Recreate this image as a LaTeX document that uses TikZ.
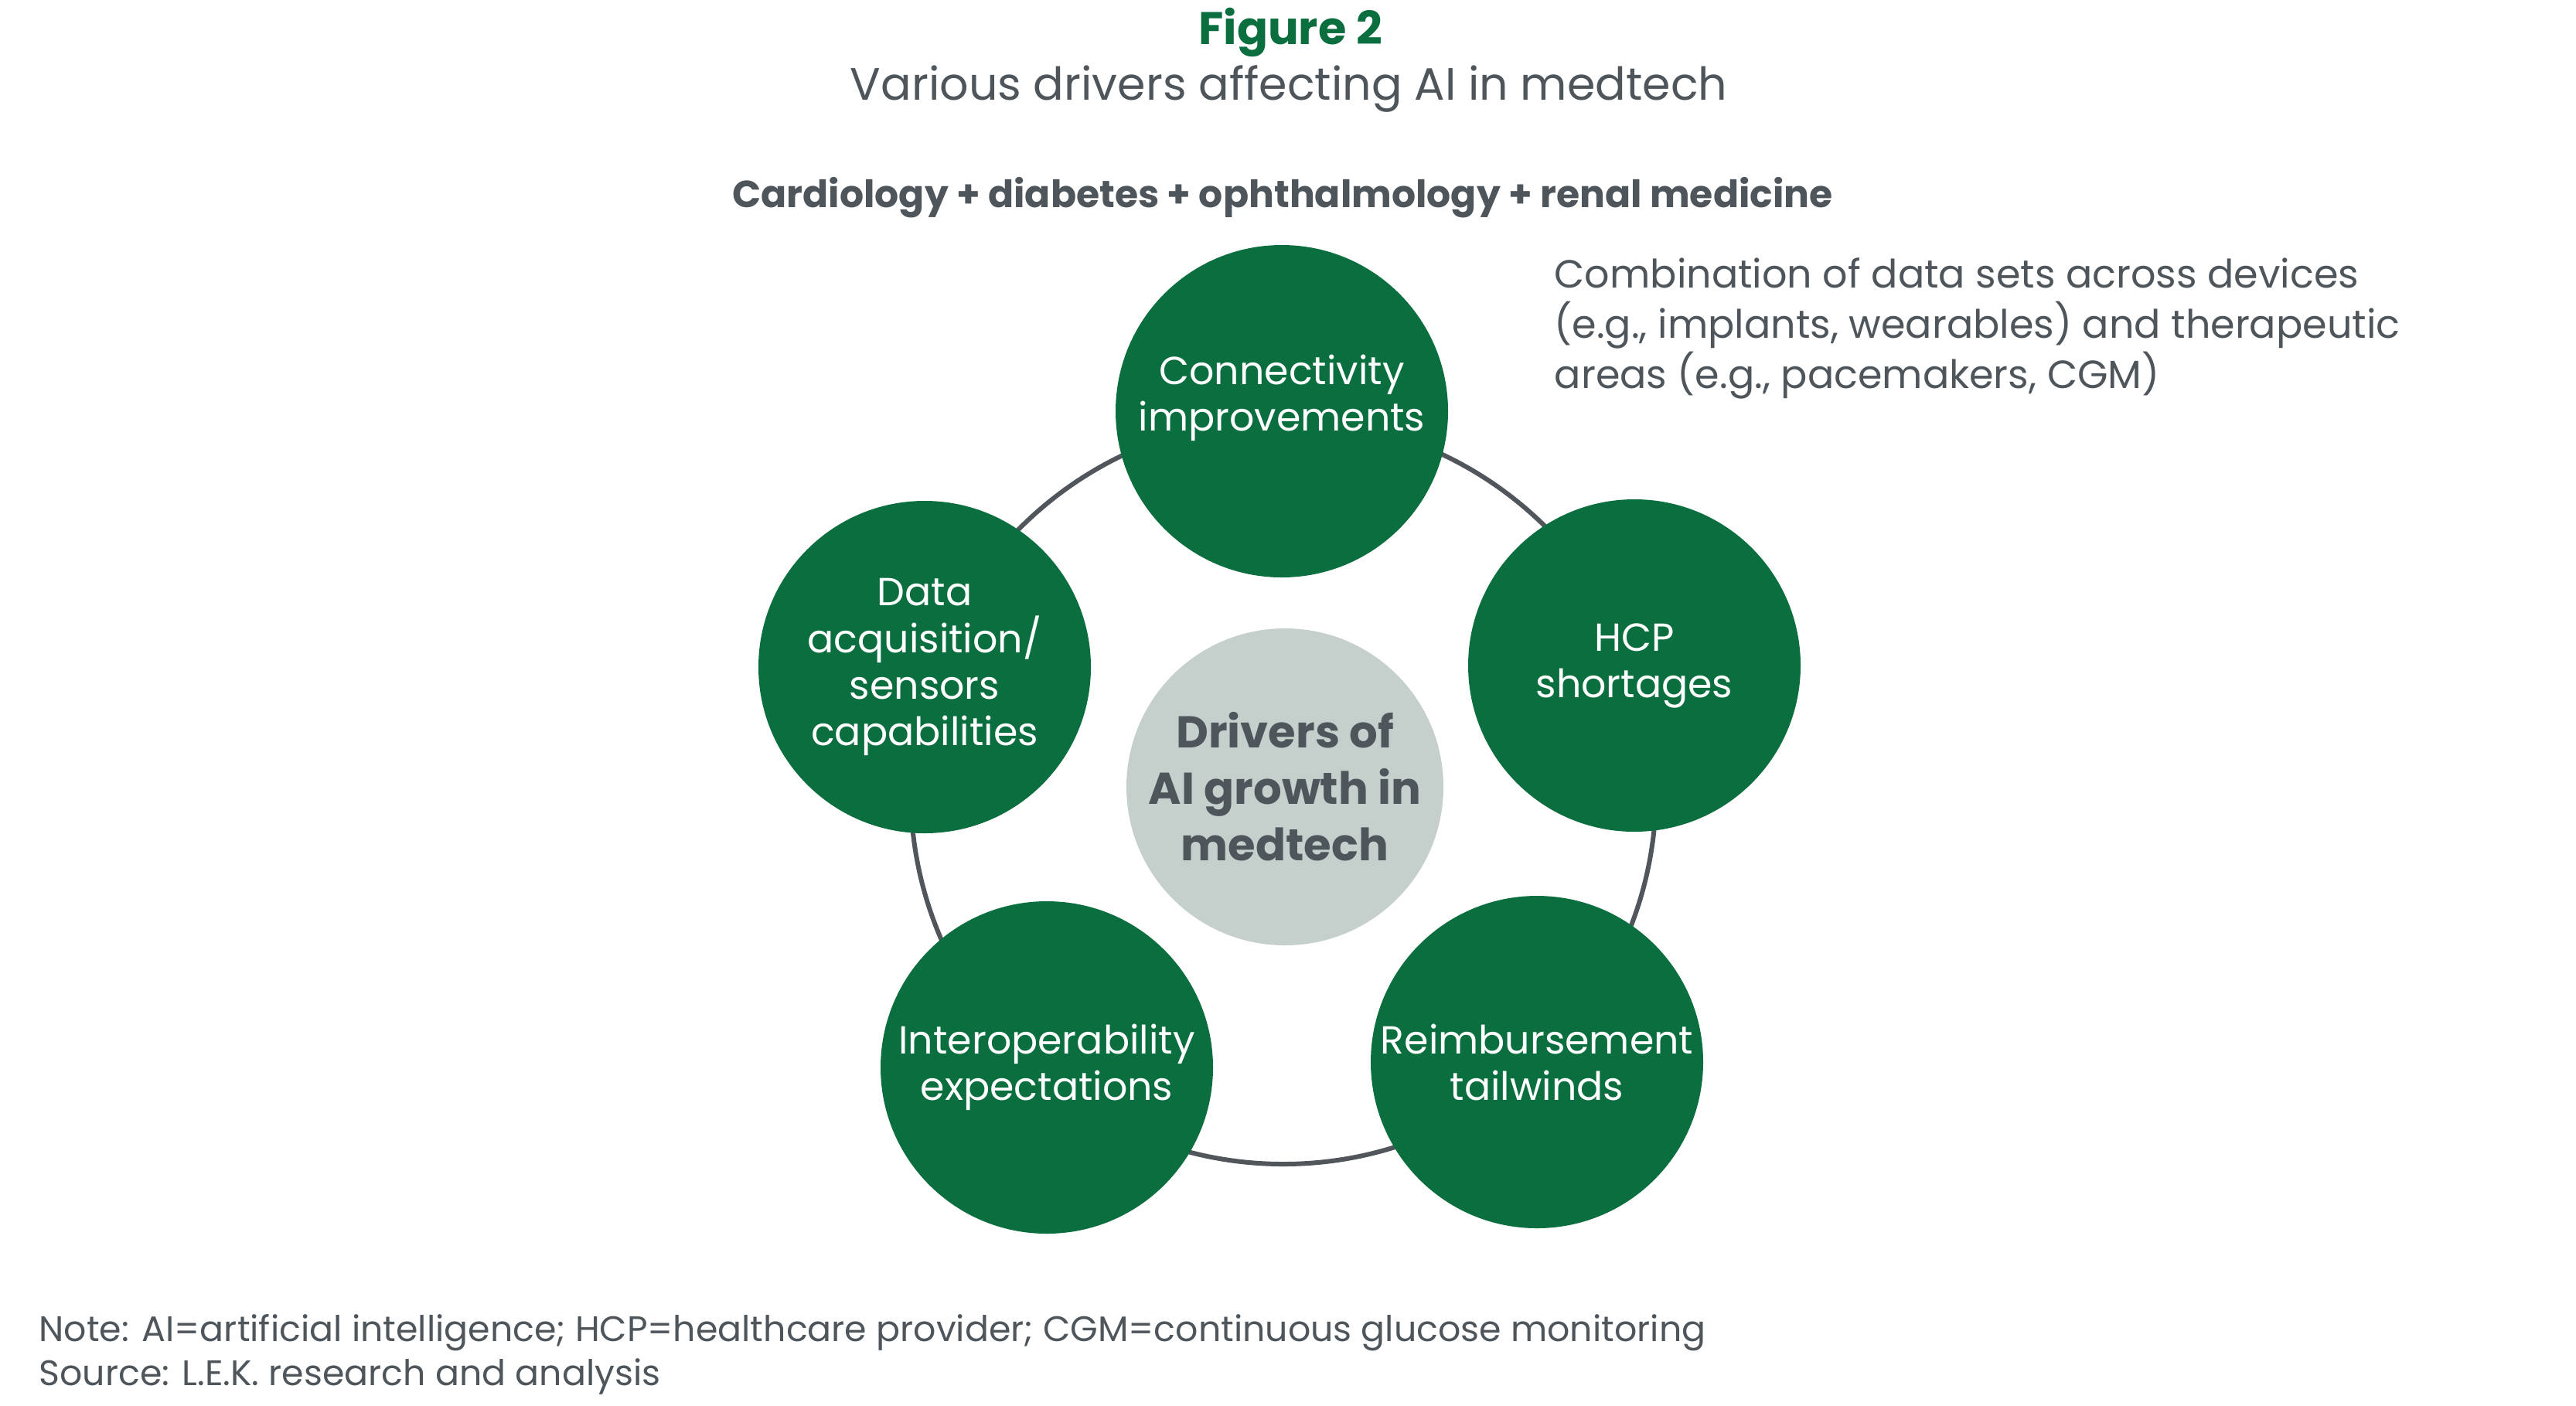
\documentclass[tikz,border=0pt]{standalone}
\usepackage{fontspec}
\setmainfont{Poppins}
\definecolor{lekgreen}{RGB}{11,110,62}
\definecolor{txtgray}{RGB}{78,85,91}
\definecolor{ringgray}{RGB}{80,86,92}
\definecolor{corefill}{RGB}{197,207,204}
\begin{document}
\begin{tikzpicture}[x=1cm,y=1cm,
  driver/.style={circle, fill=lekgreen, minimum size=4.30cm, inner sep=0pt},
  drivertext/.style={text=white, align=center, inner sep=0pt, font=\fontsize{14.4}{17.1}\selectfont},
  core/.style={circle, fill=corefill, minimum size=4.10cm, inner sep=0pt},
  coretext/.style={text=txtgray, align=center, inner sep=0pt, font=\bfseries\fontsize{16.4}{20.8}\selectfont},
  ringline/.style={draw=ringgray, line width=0.06cm},
  graytext/.style={text=txtgray, inner sep=0pt}
]
\useasboundingbox (0,0) rectangle (33.32,-18.18);

% headings
\node[graytext, anchor=base, text=lekgreen, font=\bfseries\fontsize{16.8}{20}\selectfont] (fig) at (16.69,-0.57) {Figure 2};
\node[graytext, anchor=base, font=\fontsize{16.7}{20}\selectfont] (sub) at (16.67,-1.29) {Various drivers affecting AI in medtech};
\node[graytext, anchor=base, font=\bfseries\fontsize{13.9}{16}\selectfont] (areas) at (16.59,-2.68) {Cardiology + diabetes + ophthalmology + renal medicine};

% right-hand comment
\node[graytext, anchor=base west, font=\fontsize{14.45}{18}\selectfont] (rt1) at (20.10,-3.72) {Combination of data sets across devices};
\node[graytext, anchor=base west, font=\fontsize{14.45}{18}\selectfont] (rt2) at (20.10,-4.37) {(e.g., implants, wearables) and therapeutic};
\node[graytext, anchor=base west, font=\fontsize{14.45}{18}\selectfont] (rt3) at (20.10,-5.02) {areas (e.g., pacemakers, CGM)};

% ring
\coordinate (ringc) at (16.60,-10.24);
\draw[ringline] (ringc) circle (4.82cm);

% centre
\node[core] (core) at (16.62,-10.18) {};
\node[coretext] (core-t) at (core.center) {Drivers of\\AI growth in\\medtech};

% drivers
\node[driver] (conn) at (16.58,-5.32) {};
\node[drivertext] (conn-t) at ([yshift=0.175cm]conn.center) {Connectivity\\improvements};
\node[driver] (hcp) at (21.14,-8.61) {};
\node[drivertext] (hcp-t) at (hcp.center) {HCP\\shortages};
\node[driver] (reimb) at (19.88,-13.74) {};
\node[drivertext] (reimb-t) at (reimb.center) {Reimbursement\\tailwinds};
\node[driver] (interop) at (13.54,-13.81) {};
\node[drivertext] (interop-t) at (interop.center) {Interoperability\\expectations};
\node[driver] (data) at (11.96,-8.63) {};
\node[drivertext] (data-t) at (data.center) {Data\\acquisition/\\sensors\\capabilities};

% notes
\node[graytext, anchor=base west, font=\fontsize{13.05}{16}\selectfont] (note) at (0.50,-17.35) {Note: AI=artificial intelligence; HCP=healthcare provider; CGM=continuous glucose monitoring};
\node[graytext, anchor=base west, font=\fontsize{13.05}{16}\selectfont] (source) at (0.50,-17.92) {Source: L.E.K. research and analysis};
\end{tikzpicture}
\end{document}
